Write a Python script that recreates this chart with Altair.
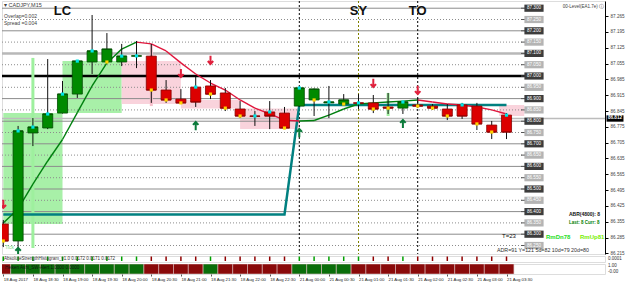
import altair as alt
import pandas as pd

# ---------------- values ----------------
bars = list(range(35))
time_labels = ["18 Aug 2017", "18 Aug 18:30", "18 Aug 19:00", "18 Aug 19:30", "18 Aug 20:00",
               "18 Aug 20:30", "18 Aug 21:00", "18 Aug 21:30", "18 Aug 22:00", "18 Aug 22:30",
               "21 Aug 00:00", "21 Aug 00:30", "21 Aug 01:00", "21 Aug 01:30", "21 Aug 02:00",
               "21 Aug 02:30", "21 Aug 03:00", "21 Aug 03:30"]

opens = [86.345, 86.270, 86.748, 86.770, 86.836, 86.920, 87.062, 87.062, 87.062, 87.088,
         87.088, 86.938, 86.898, 86.951, 86.956, 86.925, 86.854, 86.823, 86.841, 86.836,
         86.867, 86.894, 86.881, 86.876, 86.881, 86.881, 86.863, 86.858, 86.872, 86.867,
         86.854, 86.872, 86.867, 86.783, 86.827]
highs = [86.363, 86.779, 86.814, 87.075, 86.978, 87.071, 87.270, 87.190, 87.142, 87.155,
         87.142, 86.982, 86.942, 86.996, 86.982, 86.947, 86.889, 86.845, 86.889, 86.863,
         86.951, 86.945, 86.956, 86.920, 86.920, 86.916, 86.925, 86.887, 86.903, 86.876,
         86.876, 86.881, 86.881, 86.801, 86.836]
lows = [86.243, 86.234, 86.690, 86.765, 86.834, 86.903, 87.009, 87.058, 87.044, 87.035,
        86.881, 86.881, 86.876, 86.863, 86.898, 86.845, 86.814, 86.779, 86.765, 86.765,
        86.863, 86.823, 86.814, 86.874, 86.854, 86.836, 86.832, 86.832, 86.858, 86.850,
        86.805, 86.810, 86.761, 86.721, 86.721]
closes = [86.270, 86.757, 86.774, 86.832, 86.920, 87.066, 87.111, 87.119, 87.088, 87.089,
          86.938, 86.894, 86.881, 86.885, 86.920, 86.858, 86.823, 86.822, 86.823, 86.770,
          86.947, 86.942, 86.885, 86.894, 86.880, 86.854, 86.858, 86.885, 86.867, 86.858,
          86.823, 86.823, 86.788, 86.752, 86.752]
ma_values = [86.350, 86.412, 86.522, 86.624, 86.719, 86.838, 86.956, 87.058, 87.119, 87.150,
             87.142, 87.111, 87.058, 87.009, 86.969, 86.938, 86.894, 86.858, 86.832, 86.805,
             86.801, 86.803, 86.827, 86.854, 86.876, 86.881, 86.885, 86.889, 86.894, 86.885,
             86.876, 86.872, 86.863, 86.850, 86.832]
stop_levels = [86.387, 86.387, 86.387, 86.387, 86.387, 86.387, 86.387, 86.387, 86.387, 86.387,
               86.387, 86.387, 86.387, 86.387, 86.387, 86.387, 86.387, 86.387, 86.387, 86.387,
               86.872, 86.872, 86.872, 86.872, 86.872, 86.872, 86.872, 86.872, 86.872, 86.872,
               86.872, 86.872, 86.872, 86.872, 86.872]
dot_kinds = ["y", "c", "c", "c", "c", "c", "c", "y", "c", "c", "y", "y", "y", "c", "y", "y", "y", "c",
             "c", "y", "c", "y", "c", "y", "c", "y", "y", "c", "y", "y", "y", "c", "y", "y", "c"]
ash_hist = ["g", "g", "g", "g", "g", "g", "g", "g", "g", "g", "r", "r", "r", "r", "g", "r", "r", "r",
            "r", "r", "g", "g", "g", "g", "g", "r", "r", "g", "r", "r", "r", "r", "r", "r", "r"]
ha_trend = ["r", "g", "g", "g", "g", "g", "g", "g", "g", "g", "r", "r", "r", "r", "g", "r", "r", "r",
            "r", "r", "g", "g", "g", "g", "r", "r", "r", "r", "r", "r", "r", "r", "r", "r", "r"]

zone_start = [0, 4, 8, 12, 16, 33.5]
zone_end = [4, 8, 12, 16, 20, 35.2]
zone_top = [86.836, 87.066, 87.066, 86.894, 86.856, 86.872]
zone_bottom = [86.345, 86.836, 86.876, 86.856, 86.765, 86.823]
zone_kind = ["buy", "buy", "sell", "sell", "sell", "sell"]

spike_bar = [2, 10, 26]
spike_top = [87.080, 87.142, 86.925]
spike_bottom = [86.239, 86.867, 86.823]
spike_kind = ["buy", "sell", "buy"]

sell_arrow_bar = [0, 12, 14, 25, 28]
sell_arrow_price = [86.434, 87.013, 87.071, 86.969, 86.938]
buy_arrow_bar = [1, 13, 20, 27]
buy_arrow_price = [86.222, 86.779, 86.748, 86.788]

session_bar = [20, 24, 28]
session_line_color = ["#000000", "#808000", "#000000"]
label_bar = [4, 24, 28]
label_text = ["LC", "SY", "TO"]

price_levels = [87.30, 87.25, 87.20, 87.15, 87.10, 87.05, 87.00, 86.95, 86.90, 86.85, 86.80,
                86.75, 86.70, 86.65, 86.60, 86.55, 86.50, 86.45, 86.40, 86.35, 86.30, 86.25]
axis_values = [87.265, 87.195, 87.125, 87.055, 86.985, 86.915, 86.845, 86.775, 86.705,
               86.635, 86.565, 86.495, 86.425, 86.355, 86.285, 86.215]
bid_price = 86.812
heavy_levels = [87.10]
zero_level = [87.00]

# ---------------- scales ----------------
FONT = "Liberation Sans"
xs = alt.Scale(domain=[-0.088, 40.655], nice=False, zero=False)
ys = alt.Scale(domain=[86.2124, 87.3319], nice=False, zero=False)
price_axis = alt.Axis(orient="right", values=axis_values, format=".3f", labelFontSize=4.6,
                      labelFont=FONT, labelColor="#444444", tickSize=3, tickColor="#000000",
                      domainColor="#000000", grid=False, labelPadding=2, labelOverlap=False,
                      labelFlush=False, title=None)


def X(f):
    return alt.X(f, type="quantitative", scale=xs, axis=None)


def Y(f):
    return alt.Y(f, type="quantitative", scale=ys, axis=price_axis, title=None)


# ---------------- tables ----------------
cd = pd.DataFrame({"i": bars, "o": opens, "h": highs, "l": lows, "c": closes, "dot": dot_kinds})
up = cd["c"] >= cd["o"]
cd["fill"] = up.map({True: "#008a00", False: "#dc0000"})
cd["edge"] = up.map({True: "#004d00", False: "#8a0000"})
cd["x1"] = cd["i"] - 0.34
cd["x2"] = cd["i"] + 0.34
cd["dot_p"] = [max(o, c) if k == "c" else min(o, c) for o, c, k in zip(opens, closes, dot_kinds)]
cd["dot_col"] = ["#00e5e5" if k == "c" else "#ffd200" for k in dot_kinds]

seg = pd.DataFrame({
    "a": bars[:-1], "b": bars[1:], "p": ma_values[:-1], "q": ma_values[1:],
})
seg["col"] = ["#00800f" if q >= p else "#e0163c" for p, q in zip(ma_values[:-1], ma_values[1:])]

stop = pd.DataFrame({"i": bars, "p": stop_levels})
zones = pd.DataFrame({"a": zone_start, "b": zone_end, "t": zone_top, "u": zone_bottom,
                      "col": ["#a8f0a8" if k == "buy" else "#f9d3dc" for k in zone_kind]})
spikes = pd.DataFrame({"i": spike_bar, "t": spike_top, "u": spike_bottom,
                       "col": ["#9ef09e" if k == "buy" else "#f6bfcb" for k in spike_kind]})
sells = pd.DataFrame({"i": sell_arrow_bar, "p": sell_arrow_price})
buys = pd.DataFrame({"i": buy_arrow_bar, "p": buy_arrow_price})
sess = pd.DataFrame({"i": session_bar, "col": session_line_color})
labs = pd.DataFrame({"i": label_bar, "t": label_text})
lv = pd.DataFrame({"p": price_levels})
lv["major"] = [round(p * 100) % 10 == 0 for p in price_levels]
lv["txt"] = [f"{p:.3f}" for p in price_levels]
lv["box"] = ["#3c3c3c" if m else "#b4b4b4" for m in lv["major"]]

# ---------------- main panel ----------------
zone_layer = alt.Chart(zones).mark_rect(clip=True).encode(
    x=X("a"), x2="b", y=Y("t"), y2="u", color=alt.Color("col:N", scale=None))

grid_solid = alt.Chart(lv[lv["major"]]).mark_rule(color="#8c8c8c", strokeWidth=1).encode(
    y=Y("p"), x=alt.value(0), x2=alt.value(523))
grid_dot = alt.Chart(lv[~lv["major"]]).mark_rule(color="#8c8c8c", strokeWidth=1, strokeDash=[1, 2]).encode(
    y=Y("p"), x=alt.value(0), x2=alt.value(523))
heavy = alt.Chart(pd.DataFrame({"p": heavy_levels})).mark_rule(color="#b8b8b8", strokeWidth=2.5).encode(
    y=Y("p"), x=alt.value(0), x2=alt.value(523))
zero = alt.Chart(pd.DataFrame({"p": zero_level})).mark_rule(color="#000000", strokeWidth=2.5).encode(
    y=Y("p"), x=alt.value(0), x2=alt.value(523))
bid = alt.Chart(pd.DataFrame({"p": [bid_price]})).mark_rule(color="#bcbcbc", strokeWidth=1.5).encode(
    y=Y("p"), x=alt.value(0), x2=alt.value(603))

spike_layer = alt.Chart(spikes).mark_rule(strokeWidth=3, clip=True).encode(
    x=X("i"), y=Y("t"), y2="u", color=alt.Color("col:N", scale=None))

sess_layer = alt.Chart(sess).mark_rule(strokeWidth=1, strokeDash=[2, 2]).encode(
    x=X("i"), color=alt.Color("col:N", scale=None))

stop_layer = alt.Chart(stop).mark_line(color="#008080", strokeWidth=2.5, clip=True).encode(
    x=X("i"), y=Y("p"))

ma_layer = alt.Chart(seg).mark_rule(strokeWidth=1.4, clip=True).encode(
    x=X("a"), x2="b", y=Y("p"), y2="q", color=alt.Color("col:N", scale=None))

wicks = alt.Chart(cd).mark_rule(color="#101010", strokeWidth=1, clip=True).encode(
    x=X("i"), y=Y("l"), y2="h")
bodies = alt.Chart(cd).mark_rect(strokeWidth=0.8, clip=True).encode(
    x=X("x1"), x2="x2", y=Y("o"), y2="c",
    color=alt.Color("fill:N", scale=None), stroke=alt.Stroke("edge:N", scale=None))
closes_tick = alt.Chart(cd).mark_rule(strokeWidth=1, clip=True).encode(
    x=X("x1"), x2="x2", y=Y("c"), color=alt.Color("edge:N", scale=None))
dots = alt.Chart(cd).mark_point(shape="square", filled=True, size=10, opacity=1, clip=True).encode(
    x=X("i"), y=Y("dot_p"), color=alt.Color("dot_col:N", scale=None))

down_path = "M0,-1L0,0.9M-0.65,0.25L0,0.95L0.65,0.25"
up_path = "M0,1L0,-0.9M-0.65,-0.25L0,-0.95L0.65,-0.25"
sell_layer = alt.Chart(sells).mark_point(shape=down_path, filled=False, strokeWidth=2, size=70,
                                         color="#e0203c", opacity=1, clip=True).encode(
    x=X("i"), y=Y("p"))
buy_layer = alt.Chart(buys).mark_point(shape=up_path, filled=False, strokeWidth=2, size=70,
                                       color="#0a7a3a", opacity=1, clip=True).encode(
    x=X("i"), y=Y("p"))

sess_text = alt.Chart(labs).mark_text(fontSize=13, fontWeight="bold", font=FONT, color="#111111",
                                      align="center", baseline="middle").encode(
    x=X("i"), y=alt.value(10), text="t:N")

box_path = "M-1.2,-0.45L1.2,-0.45L1.2,0.45L-1.2,0.45Z"
lv_box = alt.Chart(lv).mark_point(shape=box_path, filled=True, size=256, opacity=1).encode(
    x=alt.value(532), y=Y("p"), color=alt.Color("box:N", scale=None))
lv_tick = alt.Chart(lv).mark_rule(color="#555555", strokeWidth=1).encode(
    x=alt.value(519), x2=alt.value(523), y=Y("p"))
lv_txt = alt.Chart(lv).mark_text(fontSize=4.6, font=FONT, color="#ffffff", align="center",
                                 baseline="middle").encode(
    x=alt.value(532), y=Y("p"), text="txt:N")

bid_df = pd.DataFrame({"p": [bid_price], "txt": [f"{bid_price:.3f}"]})
bid_box = alt.Chart(bid_df).mark_point(shape=box_path, filled=True, size=200, color="#000000",
                                       opacity=1).encode(x=alt.value(613), y=Y("p"))
bid_txt = alt.Chart(bid_df).mark_text(fontSize=4.6, font=FONT, color="#ffffff", align="center",
                                      baseline="middle", fontWeight="bold").encode(
    x=alt.value(613), y=Y("p"), text="txt:N")


def note(text, px, py, size=5.5, color="#333333", weight="normal", align="left"):
    return alt.Chart(alt.Data(values=[{"t": text}])).mark_text(
        fontSize=size, font=FONT, color=color, fontWeight=weight, align=align, baseline="middle"
    ).encode(x=alt.value(px), y=alt.value(py), text="t:N")


notes = [
    note("\u25be CADJPY,M15", 2, 4, 5.5, "#404040"),
    note("Overlap=0.002", 2, 15, 5, "#404040"),
    note("Spread =0.004", 2, 22, 5, "#404040"),
    note("00-Level(EA1.7e) \u24d8", 602, 6, 4.5, "#404040", align="right"),
    note("Tick", 3, 246, 5, "#7ee07e"),
    note("ABR(4800): 8", 567, 213, 5, "#111111", "bold"),
    note("Last: 8 Curr: 8", 567, 222, 4.5, "#008000", "bold"),
    note("T=23", 500, 235, 6, "#111111"),
    note("RmDn78", 544, 236, 6, "#22dd22", "bold"),
    note("RmUp81", 578, 236, 6, "#77ee00", "bold"),
    note("ADR=91  Y=121  5d=82  10d=79  20d=80", 495, 248.5, 5.3, "#303030"),
]

main = alt.layer(
    zone_layer, grid_solid, grid_dot, heavy, zero, bid, spike_layer, sess_layer,
    stop_layer, ma_layer, wicks, bodies, closes_tick, dots, sell_layer, buy_layer, sess_text,
    lv_tick, lv_box, lv_txt, bid_box, bid_txt, *notes
).properties(width=603, height=253)

# ---------------- indicator 1 ----------------
ind1_df = pd.DataFrame({"i": bars, "col": ["#00a000" if k == "g" else "#900000" for k in ash_hist]})
ind1 = alt.layer(
    alt.Chart(ind1_df).mark_rule(strokeWidth=1.5, clip=True).encode(
        x=X("i"), y=alt.value(0.5), y2=alt.value(5), color=alt.Color("col:N", scale=None)),
    note("AbsoluteStrengthHistogram_v1.0 0.0172 0.0171 0.0172", 2, 3, 4.5, "#333333"),
    note("0.0001", 606, 3, 4.5, "#333333"),
).properties(width=603, height=6)

# ---------------- indicator 2 ----------------
ind2_df = pd.DataFrame({"i": bars, "col": ["#0a6e0a" if k == "g" else "#8a0a0a" for k in ha_trend]})
ind2_df["a"] = ind2_df["i"] - 0.5
ind2_df["b"] = ind2_df["i"] + 0.5
label_expr = "[" + ",".join(f"'{t}'" for t in time_labels) + "][round(datum.value/2)]"
ind2 = alt.layer(
    alt.Chart(ind2_df).mark_rect(stroke="#d8b8b8", strokeWidth=0.6, clip=True).encode(
        x=alt.X("a:Q", scale=xs, title=None,
                axis=alt.Axis(values=bars[::2], labelExpr=label_expr, labelAlign="left",
                              labelFontSize=4.3, labelFont=FONT, labelColor="#222222", tickSize=2,
                              tickColor="#555555", domain=False, grid=False, labelPadding=1,
                              labelOverlap=False, labelFlush=False)),
        x2="b", y=alt.value(0), y2=alt.value(10), color=alt.Color("col:N", scale=None)),
    note("Heiken Ashi_SW-Alert 1.0000 0.0000", 3, 4, 4.5, "#111111"),
    note("1.00", 606, 2, 4.5, "#333333"),
    note("-0.00", 606, 7.5, 4.5, "#333333"),
).properties(width=603, height=10)

chart = alt.vconcat(main, ind1, ind2, spacing=2, bounds="flush", padding=0).configure_view(
    stroke="#9a9a9a", strokeWidth=1
).configure(background="#ffffff")

chart.save("out.html", embed_options={"renderer": "svg", "actions": False})
